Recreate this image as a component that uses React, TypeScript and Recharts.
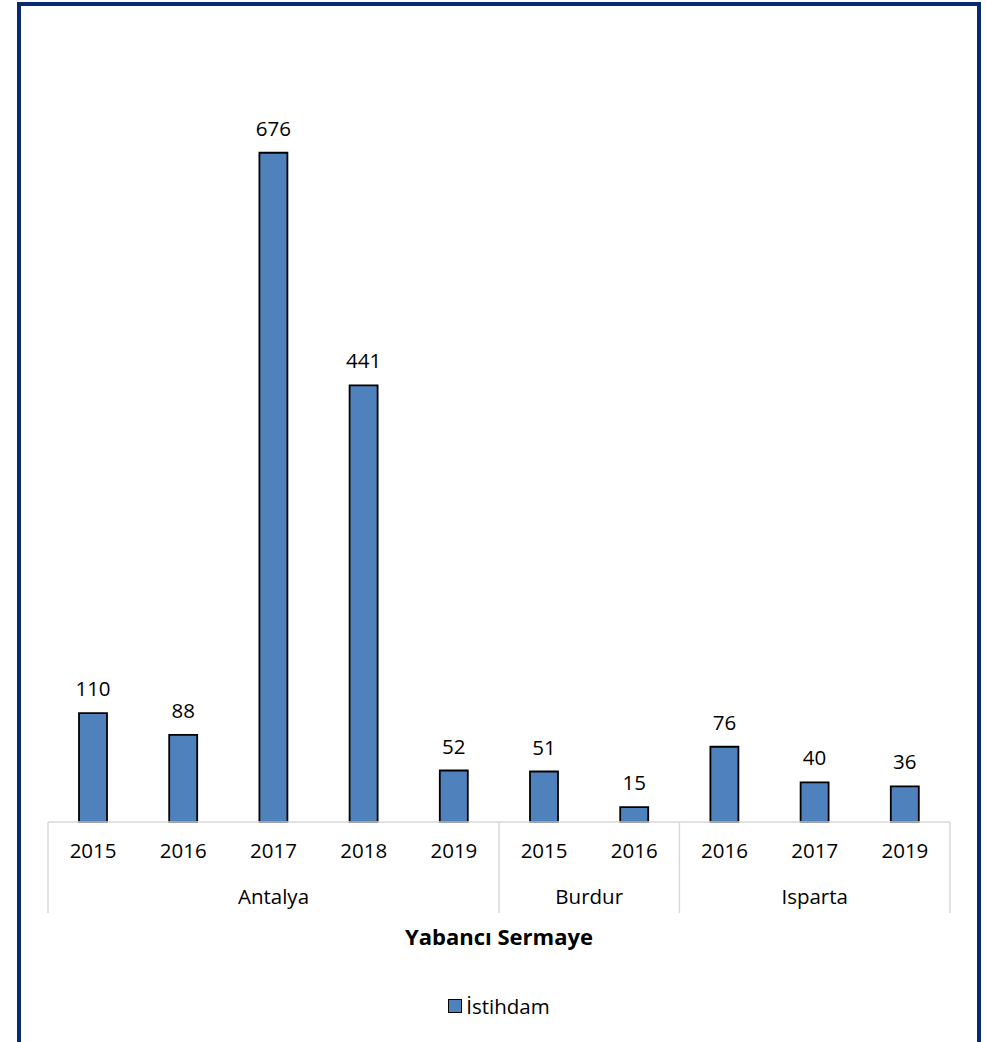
import { Bar, BarChart, LabelList, Legend, XAxis, YAxis } from "recharts";

// Yabancı sermaye istihdamı, il ve yıl bazında
const regions = [
  "Antalya",
  "Antalya",
  "Antalya",
  "Antalya",
  "Antalya",
  "Burdur",
  "Burdur",
  "Isparta",
  "Isparta",
  "Isparta",
];
const years = ["2015", "2016", "2017", "2018", "2019", "2015", "2016", "2016", "2017", "2019"];
const employment = [110, 88, 676, 441, 52, 51, 15, 76, 40, 36];

const seriesName = "İstihdam";
const axisTitle = "Yabancı Sermaye";

const data = years.map((year, i) => ({ year, region: regions[i], value: employment[i] }));

const WIDTH = 986;
const HEIGHT = 1042;
const MARGIN = { top: 30, right: 36, bottom: 90, left: 48 };
const BAND = (WIDTH - MARGIN.left - MARGIN.right) / years.length;
const BAR_COLOR = "#4F81BD";
const GRID = "#D9D9D9";

function CategoryTick(props: any) {
  const { x, y, index, payload } = props;
  const region = regions[index];
  const groupStart = index === 0 || regions[index - 1] !== region;
  const groupSize = regions.filter((r) => r === region).length;
  const isLast = index === regions.length - 1;

  return (
    <g>
      <text x={x} y={y + 36} textAnchor="middle" fontSize={20.5} fill="#000">
        {payload.value}
      </text>
      {groupStart && (
        <>
          <line x1={x - BAND / 2} x2={x - BAND / 2} y1={y} y2={y + 91} stroke={GRID} strokeWidth={1.5} />
          <text x={x + ((groupSize - 1) * BAND) / 2} y={y + 82} textAnchor="middle" fontSize={20.5} fill="#000">
            {region}
          </text>
        </>
      )}
      {isLast && (
        <line x1={x + BAND / 2} x2={x + BAND / 2} y1={y} y2={y + 91} stroke={GRID} strokeWidth={1.5} />
      )}
    </g>
  );
}

function LegendContent() {
  return (
    <div style={{ display: "flex", justifyContent: "center", alignItems: "center", fontSize: 20.5, color: "#000" }}>
      <span
        style={{
          display: "inline-block",
          width: 12,
          height: 12,
          background: BAR_COLOR,
          border: "1.5px solid #000",
          marginRight: 4,
        }}
      />
      <span>{seriesName}</span>
    </div>
  );
}

export default function App() {
  return (
    <div style={{ position: "absolute", left: 0, top: 0, width: WIDTH, height: HEIGHT, fontFamily: "'Open Sans', sans-serif", background: "#fff" }}>
      <div
        style={{
          position: "absolute",
          left: 17,
          top: 2,
          width: 956,
          height: HEIGHT - 2,
          border: "4px solid #0A2A6E",
          borderBottom: "none",
        }}
      />
      <BarChart width={WIDTH} height={HEIGHT} data={data} margin={MARGIN}>
        <XAxis
          dataKey="year"
          interval={0}
          height={130}
          tickLine={false}
          tickSize={0}
          tickMargin={0}
          axisLine={{ stroke: GRID, strokeWidth: 1.5 }}
          tick={<CategoryTick />}
          label={{ value: axisTitle, position: "insideBottom", offset: 7, fontSize: 22, fontWeight: "bold", fill: "#000" }}
        />
        <YAxis hide domain={[0, 800]} />
        <Legend
          layout="horizontal"
          verticalAlign="middle"
          align="center"
          wrapperStyle={{ top: 992, left: MARGIN.left, width: WIDTH - MARGIN.left - MARGIN.right }}
          content={<LegendContent />}
        />
        <Bar dataKey="value" name={seriesName} fill={BAR_COLOR} stroke="#000" strokeWidth={1.8} barSize={28} isAnimationActive={false}>
          <LabelList dataKey="value" position="top" offset={17} fontSize={20.5} fill="#000" />
        </Bar>
      </BarChart>
    </div>
  );
}
